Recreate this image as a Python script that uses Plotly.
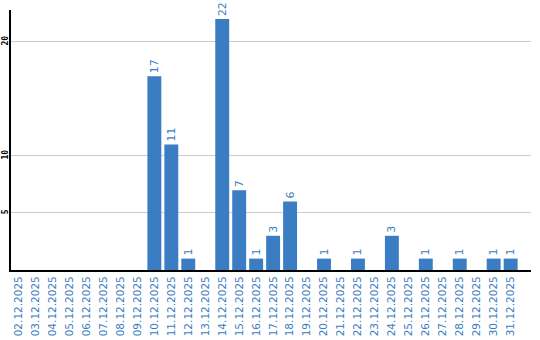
import plotly.graph_objects as go

dates = ["%02d.12.2025" % d for d in range(2, 32)]
values = [0, 0, 0, 0, 0, 0, 0, 0, 17, 11, 1, 0, 22, 7, 1, 3, 6, 0, 1, 0, 1, 0, 3, 0, 1, 0, 1, 0, 1, 1]
y_ticks = [5, 10, 20]

bar_color = "#3a7dc2"
text_color = "#3a7dc2"

fig = go.Figure(go.Bar(
    x=dates,
    y=values,
    marker=dict(color=bar_color, line=dict(width=0)),
    text=[str(v) if v > 0 else "" for v in values],
    textposition="outside",
    textangle=-90,
    textfont=dict(family="DejaVu Sans", size=11, color=text_color),
    cliponaxis=False,
))

fig.update_layout(
    width=540, height=340,
    margin=dict(l=11, r=9, t=10, b=70),
    paper_bgcolor="white", plot_bgcolor="white",
    bargap=0.18,
    showlegend=False,
    xaxis=dict(
        type="category",
        range=[-0.45, 30.2],
        tickangle=-90,
        tickfont=dict(family="DejaVu Sans", size=10.5, color=text_color),
        showgrid=False,
        showline=True, linecolor="black", linewidth=2,
        ticks="",
        automargin=False,
    ),
    yaxis=dict(
        range=[0, 22.8],
        tickvals=y_ticks,
        ticktext=[str(t) for t in y_ticks],
        tickangle=-90,
        tickfont=dict(family="DejaVu Sans Mono", size=8, color="black", weight="bold"),
        showgrid=True, gridcolor="#cccccc", gridwidth=1,
        showline=True, linecolor="black", linewidth=2,
        zeroline=False,
        ticks="",
        ticklabelstandoff=-2,
        automargin=False,
    ),
)

fig.write_html("out.html")
